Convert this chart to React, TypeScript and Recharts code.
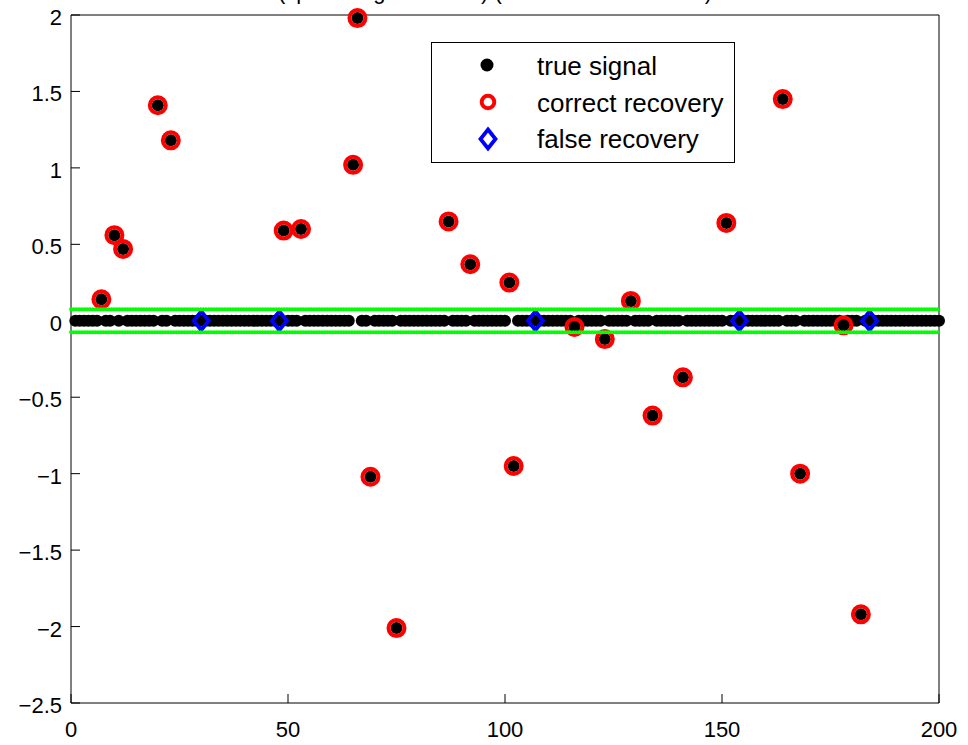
import React from 'react';
import { ScatterChart, Scatter, XAxis, YAxis, Legend } from 'recharts';

const FONT = '"Liberation Sans", Arial, Helvetica, sans-serif';

// sparse signal of length 200: positions and values of the nonzero entries
const signalLength = 200;
const supportIdx = [7, 10, 12, 20, 23, 49, 53, 65, 66, 69, 75, 87, 92, 101, 102, 116, 123, 129, 134, 141, 151, 164, 168, 178, 182];
const supportVal = [0.14, 0.56, 0.47, 1.41, 1.18, 0.59, 0.6, 1.02, 1.98, -1.02, -2.01, 0.65, 0.37, 0.25, -0.95, -0.04, -0.12, 0.13, -0.62, -0.37, 0.64, 1.45, -1.0, -0.03, -1.92];

// entries recovered as nonzero although the true value is zero
const falseIdx = [30, 48, 107, 154, 184];
const falseVal = [0, 0, 0, 0, 0];

const threshold = 0.075;

const xTicks = [0, 50, 100, 150, 200];
const yTicks = [-2.5, -2, -1.5, -1, -0.5, 0, 0.5, 1, 1.5, 2];
const legendLabels = ['true signal', 'correct recovery', 'false recovery'];
const titleText = '(sparse signal vector) (l1-norm minimization)';

const trueSignal = Array.from({ length: signalLength }, (_, i) => {
    const k = supportIdx.indexOf(i + 1);
    return { x: i + 1, y: k >= 0 ? supportVal[k] : 0 };
});
const correct = supportIdx.map((x, i) => ({ x, y: supportVal[i] }));
const falseRec = falseIdx.map((x, i) => ({ x, y: falseVal[i] }));
const xMin = xTicks[0];
const xMax = xTicks[xTicks.length - 1];
const upper = [{ x: xMin, y: threshold }, { x: xMax, y: threshold }];
const lower = [{ x: xMin, y: -threshold }, { x: xMax, y: -threshold }];

const fmt = (v: number) => (v < 0 ? '\u2212' + String(-v) : String(v));

const diamondPath = (cx: number, cy: number) =>
    `M${cx},${cy - 9.5} L${cx + 7.5},${cy} L${cx},${cy + 9.5} L${cx - 7.5},${cy} Z`;

const Dot = (p: any) => <circle cx={p.cx} cy={p.cy} r={6} fill="#000" />;
const Ring = (p: any) => <circle cx={p.cx} cy={p.cy} r={8} fill="none" stroke="#ff0000" strokeWidth={4} />;
const Diamond = (p: any) => (
    <path d={diamondPath(p.cx, p.cy)} fill="none" stroke="#0000ff" strokeWidth={3.8} />
);
const Nothing = () => <g />;

const XTick = (p: any) => (
    <text x={p.x} y={p.y + 34} textAnchor="middle" fontSize={22} fontFamily={FONT} fill="#000">
        {fmt(p.payload.value)}
    </text>
);

const YTick = (p: any) => (
    <text x={p.x} y={p.y + 10} textAnchor="end" fontSize={22} fontFamily={FONT} fill="#000">
        {fmt(p.payload.value)}
    </text>
);

const renderLegend = () => (
    <svg width={304} height={122} style={{ display: 'block' }}>
        <rect x={0.5} y={0.5} width={303} height={120} fill="#fff" stroke="#000" strokeWidth={1} />
        <circle cx={56} cy={23} r={6.5} fill="#000" />
        <circle cx={57} cy={60} r={6.3} fill="none" stroke="#ff0000" strokeWidth={4} />
        <path d={diamondPath(57, 97)} fill="none" stroke="#0000ff" strokeWidth={3.8} />
        {legendLabels.map((label, i) => (
            <text key={label} x={106} y={33 + i * 36.5} fontSize={26} fontFamily={FONT} fill="#000">
                {label}
            </text>
        ))}
    </svg>
);

export default function App() {
    return (
        <div style={{ position: 'absolute', left: 0, top: 0, width: 968, height: 745, background: '#fff' }}>
            <ScatterChart width={968} height={745} margin={{ top: 14, right: 28, bottom: 0, left: 0 }}>
                <text x={495} y={-1} textAnchor="middle" fontSize={22} fontFamily={FONT} fill="#000">
                    {titleText}
                </text>
                <XAxis
                    type="number"
                    dataKey="x"
                    domain={[xMin, xMax]}
                    ticks={xTicks}
                    interval={0}
                    height={42}
                    tickSize={-9}
                    tickMargin={9}
                    tick={XTick}
                    axisLine={{ stroke: '#000' }}
                    tickLine={{ stroke: '#000' }}
                />
                <XAxis
                    xAxisId="top"
                    orientation="top"
                    type="number"
                    dataKey="x"
                    domain={[xMin, xMax]}
                    ticks={xTicks}
                    interval={0}
                    height={1}
                    tickSize={-9}
                    tick={false}
                    axisLine={{ stroke: '#000' }}
                    tickLine={{ stroke: '#000' }}
                />
                <YAxis
                    type="number"
                    dataKey="y"
                    domain={[-2.5, 2]}
                    ticks={yTicks}
                    interval={0}
                    width={71}
                    tickSize={-9}
                    tickMargin={18}
                    tick={YTick}
                    axisLine={{ stroke: '#000' }}
                    tickLine={{ stroke: '#000' }}
                />
                <YAxis
                    yAxisId="right"
                    orientation="right"
                    type="number"
                    dataKey="y"
                    domain={[-2.5, 2]}
                    ticks={yTicks}
                    interval={0}
                    width={1}
                    tickSize={-9}
                    tick={false}
                    axisLine={{ stroke: '#000' }}
                    tickLine={{ stroke: '#000' }}
                />
                <Legend
                    content={renderLegend}
                    layout="vertical"
                    align="center"
                    verticalAlign="middle"
                    wrapperStyle={{ left: 431, top: 42, width: 304, height: 122 }}
                />
                <Scatter name="true signal" data={trueSignal} shape={Dot} isAnimationActive={false} />
                <Scatter name="correct recovery" data={correct} shape={Ring} isAnimationActive={false} />
                <Scatter name="false recovery" data={falseRec} shape={Diamond} isAnimationActive={false} />
                <Scatter
                    data={upper}
                    shape={Nothing}
                    legendType="none"
                    line={{ stroke: '#00ff00', strokeWidth: 4, strokeDasharray: '0 2.7', strokeLinecap: 'round' }}
                    isAnimationActive={false}
                />
                <Scatter
                    data={lower}
                    shape={Nothing}
                    legendType="none"
                    line={{ stroke: '#00ff00', strokeWidth: 4, strokeDasharray: '0 2.7', strokeLinecap: 'round' }}
                    isAnimationActive={false}
                />
            </ScatterChart>
        </div>
    );
}
